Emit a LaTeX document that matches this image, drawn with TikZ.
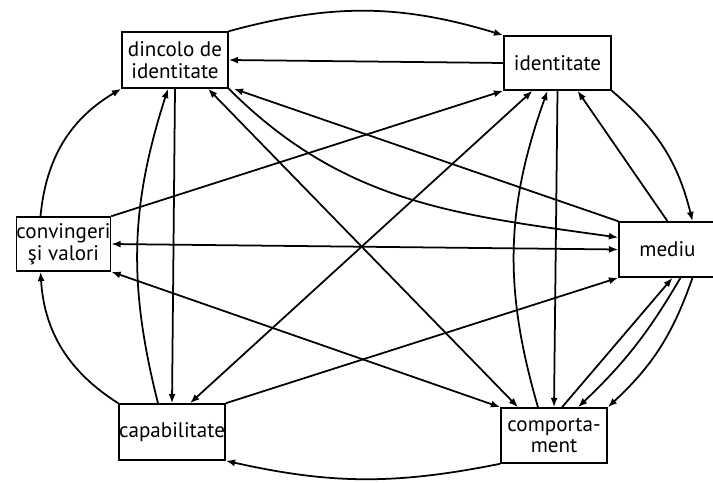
\documentclass[tikz,border=0pt]{standalone}
\usepackage{fontspec}
\setmainfont{PT Sans}
\usetikzlibrary{arrows.meta,calc}

\begin{document}
\begin{tikzpicture}[x=0.03cm,y=0.03cm,
    level/.style={draw,line width=1.3pt,inner sep=0pt,align=center,
      font=\fontsize{18}{18.5}\selectfont},
    link/.style={line width=1.5pt,-{Latex[length=8pt,width=6pt]}},
    twoway/.style={line width=1.5pt,{Latex[length=8pt,width=6pt]}-{Latex[length=8pt,width=6pt]}}]
    \useasboundingbox (0,0) rectangle (713,482);
    % the six levels
    \node[level,minimum width=3.18cm,minimum height=1.68cm] (dincolo) at (175,422) {dincolo de\\identitate};
    \node[level,minimum width=3.21cm,minimum height=1.62cm] (ident) at (557.5,419) {identitate};
    \node[level,minimum width=2.79cm,minimum height=1.62cm] (conv) at (63.5,238) {convingeri\\şi valori};
    \node[level,minimum width=2.91cm,minimum height=1.65cm] (mediu) at (667.5,232.5) {mediu};
    \node[level,minimum width=3.18cm,minimum height=1.68cm] (capab) at (172,50) {capabilitate};
    \node[level,minimum width=3.18cm,minimum height=1.65cm] (comp) at (554,46.5) {comporta-\\ment};
    % around the outside
    \draw[link] (dincolo.north east) to[bend left=16] (ident.north west);
    \draw[link] (ident.south east) to[bend left=18] ($(mediu.north)+(25,0)$);
    \draw[link] ($(mediu.south)+(13,0)$) to[bend left=8] ($(comp.north)+(24,0)$);
    \draw[link] ($(mediu.south)+(25,0)$) to[bend left=14] (comp.north east);
    \draw[link] (comp.south west) to[bend left=12] (capab.south east);
    \draw[link] (capab.north west) to[bend left=27] ($(conv.south)+(-23,0)$);
    \draw[link] ($(conv.north)+(-23,0)$) to[bend left=27] (dincolo.south west);
    % straight and inner links
    \draw[link] (ident.west) -- (dincolo.east);
    \draw[link] (conv.north east) -- (ident.south west);
    \draw[twoway] ($(capab.north)+(18,0)$) -- ($(ident.south)+(-25,0)$);
    \draw[link] ($(comp.north)+(-16,0)$) to[bend left=18] ($(ident.south)+(-10,0)$);
    \draw[link] (ident.south) -- (comp.north);
    \draw[link] (mediu.north) -- ($(ident.south)+(20,0)$);
    \draw[link] (mediu.north west) -- ($(dincolo.south east)+(5,0)$);
    \draw[link] (dincolo.south east) to[out=-45,in=172] ($(mediu.west)+(0,12)$);
    \draw[twoway] (conv.east) -- (mediu.west);
    \draw[twoway] (conv.south east) -- (comp.north west);
    \draw[link] (capab.north east) -- (mediu.south west);
    \draw[link] ($(capab.north)+(-14,0)$) to[bend left=16] ($(dincolo.south)+(-7,0)$);
    \draw[link] (dincolo.south) -- (capab.north);
    \draw[twoway] ($(dincolo.south)+(33,0)$) -- ($(comp.north)+(-36,0)$);
    \draw[link] ($(comp.north)+(8,0)$) -- ($(mediu.south)+(5,0)$);
\end{tikzpicture}
\end{document}
